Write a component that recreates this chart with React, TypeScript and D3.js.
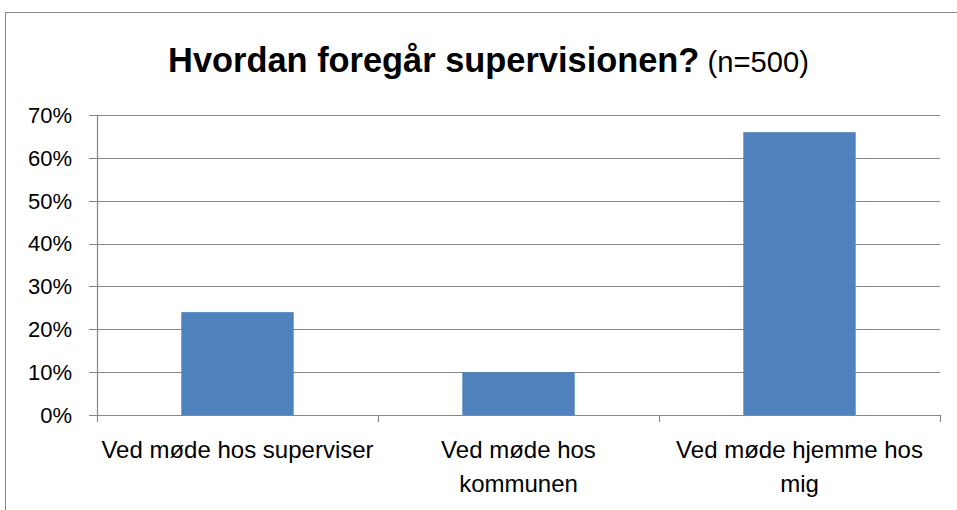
import React from "react";
import * as d3 from "d3";

const categories: string[][] = [
  ["Ved møde hos superviser"],
  ["Ved møde hos", "kommunen"],
  ["Ved møde hjemme hos", "mig"],
];
const values: number[] = [0.24, 0.1, 0.66];
const yTicks: number[] = [0, 0.1, 0.2, 0.3, 0.4, 0.5, 0.6, 0.7];
const titleBold = "Hvordan foregår supervisionen?";
const titleNormal = " (n=500)";

const W = 957;
const H = 510;
const FONT = "'Liberation Sans', Arial, sans-serif";

export default function App() {
  const left = 97;
  const right = 940;
  const top = 115;
  const bottom = 415;
  const x = d3
    .scaleBand<number>()
    .domain(categories.map((_, i) => i))
    .range([left, right])
    .paddingInner(0.6)
    .paddingOuter(0.3);
  const step = (right - left) / categories.length;
  const y = d3.scaleLinear().domain([0, 0.7]).range([bottom, top]);
  const fmt = d3.format(".0%");
  const grey = "#868686";

  return (
    <svg
      width={W}
      height={H}
      style={{ position: "absolute", left: 0, top: 0, display: "block" }}
    >
      <rect x={0} y={0} width={W} height={H} fill="#fff" />
      <rect
        x={5.5}
        y={12.5}
        width={W}
        height={H}
        fill="#fff"
        stroke={grey}
        strokeWidth={1}
      />
      <text
        x={488.5}
        y={72}
        textAnchor="middle"
        fontFamily={FONT}
        fill="#000"
      >
        <tspan fontWeight="bold" fontSize={34.4}>
          {titleBold}
        </tspan>
        <tspan fontSize={29.2}>{titleNormal}</tspan>
      </text>
      {yTicks.map((t) => (
        <g key={t}>
          <line
            x1={left - 8}
            x2={right}
            y1={Math.round(y(t)) + 0.5}
            y2={Math.round(y(t)) + 0.5}
            stroke={grey}
            strokeWidth={1.2}
          />
          <text
            x={72}
            y={y(t)}
            dy="0.36em"
            textAnchor="end"
            fontFamily={FONT}
            fontSize={22}
            fill="#000"
          >
            {fmt(t)}
          </text>
        </g>
      ))}
      <line
        x1={left + 0.5}
        x2={left + 0.5}
        y1={top}
        y2={bottom + 7}
        stroke={grey}
        strokeWidth={1.2}
      />
      {values.map((v, i) => (
        <rect
          key={i}
          x={x(i)}
          y={y(v)}
          width={x.bandwidth()}
          height={bottom - y(v)}
          fill="#4F81BD"
        />
      ))}
      {categories.map((_, i) => (
        <line
          key={"t" + i}
          x1={left + step * (i + 1) + 0.5}
          x2={left + step * (i + 1) + 0.5}
          y1={bottom}
          y2={bottom + 7}
          stroke={grey}
          strokeWidth={1.2}
        />
      ))}
      {categories.map((lines, i) => (
        <text
          key={"c" + i}
          x={left + step * (i + 0.5)}
          y={458}
          textAnchor="middle"
          fontFamily={FONT}
          fontSize={24}
          fill="#000"
        >
          {lines.map((l, j) => (
            <tspan key={j} x={left + step * (i + 0.5)} dy={j === 0 ? 0 : 34}>
              {l}
            </tspan>
          ))}
        </text>
      ))}
    </svg>
  );
}
